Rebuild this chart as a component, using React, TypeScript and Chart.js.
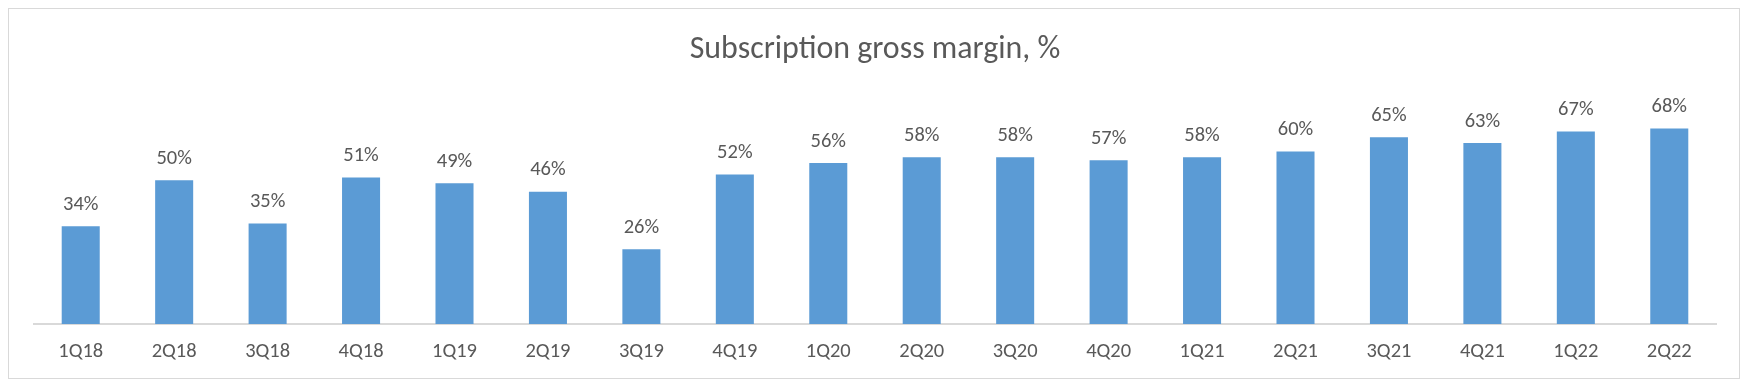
import { useEffect, useRef } from "react";
import { Chart, registerables } from "chart.js";

Chart.register(...registerables);

// ---- data ----
const CATEGORIES = [
  "1Q18", "2Q18", "3Q18", "4Q18",
  "1Q19", "2Q19", "3Q19", "4Q19",
  "1Q20", "2Q20", "3Q20", "4Q20",
  "1Q21", "2Q21", "3Q21", "4Q21",
  "1Q22", "2Q22",
];
const MARGIN_PCT = [34, 50, 35, 51, 49, 46, 26, 52, 56, 58, 58, 57, 58, 60, 65, 63, 67, 68];
const TITLE = "Subscription gross margin, %";
const Y_MIN = 0;
const Y_MAX = 80;

// ---- style ----
const FAMILY = "Carlito, Lato, sans-serif";
const TEXT = "#595959";
const BAR = "#5B9BD5";
const LINE = "#D9D9D9";
const CANVAS_W = 1730;
const CANVAS_H = 369;

function fitSize(text: string, target: number): number {
  const c = document.createElement("canvas").getContext("2d");
  if (!c) return 18;
  c.font = `normal 100px ${FAMILY}`;
  const w = c.measureText(text).width;
  return Math.round((100 * target) / w * 10) / 10;
}

export default function App() {
  const ref = useRef<HTMLCanvasElement | null>(null);

  useEffect(() => {
    if (!ref.current) return;
    const titleSize = fitSize(TITLE, 371);
    const tickSize = fitSize("1Q18", 45);
    const labelSize = fitSize("34%", 35.5);

    const titleCenter = 41;
    const areaTop = 85;
    const tLH = titleSize * 1.2;

    const labelPlugin = {
      id: "barLabels",
      afterDatasetsDraw(chart: any) {
        const ctx = chart.ctx;
        const meta = chart.getDatasetMeta(0);
        ctx.save();
        ctx.font = `normal ${labelSize}px ${FAMILY}`;
        ctx.fillStyle = TEXT;
        ctx.textAlign = "center";
        ctx.textBaseline = "middle";
        meta.data.forEach((bar: any, i: number) => {
          ctx.fillText(`${MARGIN_PCT[i]}%`, bar.x, bar.y - 21.5);
        });
        ctx.restore();
      },
    };

    const chart = new Chart(ref.current, {
      type: "bar",
      data: {
        labels: CATEGORIES,
        datasets: [
          {
            data: MARGIN_PCT,
            backgroundColor: BAR,
            borderWidth: 0,
            categoryPercentage: 1,
            barPercentage: 0.407,
          },
        ],
      },
      options: {
        animation: false,
        responsive: false,
        devicePixelRatio: 1,
        layout: { padding: { left: 25, right: 23, top: 0, bottom: 0 } },
        plugins: {
          legend: { display: false },
          tooltip: { enabled: false },
          title: {
            display: true,
            text: TITLE,
            color: TEXT,
            font: { family: FAMILY, size: titleSize, weight: "normal", lineHeight: 1.2 },
            padding: { top: titleCenter - tLH / 2, bottom: areaTop - titleCenter - tLH / 2 },
          },
        },
        scales: {
          y: { display: false, min: Y_MIN, max: Y_MAX },
          x: {
            grid: { display: false, drawTicks: false },
            border: { display: true, color: LINE, width: 2 },
            ticks: {
              color: TEXT,
              font: { family: FAMILY, size: tickSize, lineHeight: 1.2 },
              padding: 28 - tickSize * 0.6,
              maxRotation: 0,
              autoSkip: false,
            },
            afterFit(scale: any) {
              scale.height = CANVAS_H - 315;
            },
          },
        },
      },
      plugins: [labelPlugin],
    });
    return () => chart.destroy();
  }, []);

  return (
    <div
      style={{
        width: CANVAS_W + 2,
        height: CANVAS_H + 2,
        border: `1px solid ${LINE}`,
        boxSizing: "border-box",
        background: "#fff",
      }}
    >
      <canvas ref={ref} width={CANVAS_W} height={CANVAS_H} style={{ display: "block" }} />
    </div>
  );
}
